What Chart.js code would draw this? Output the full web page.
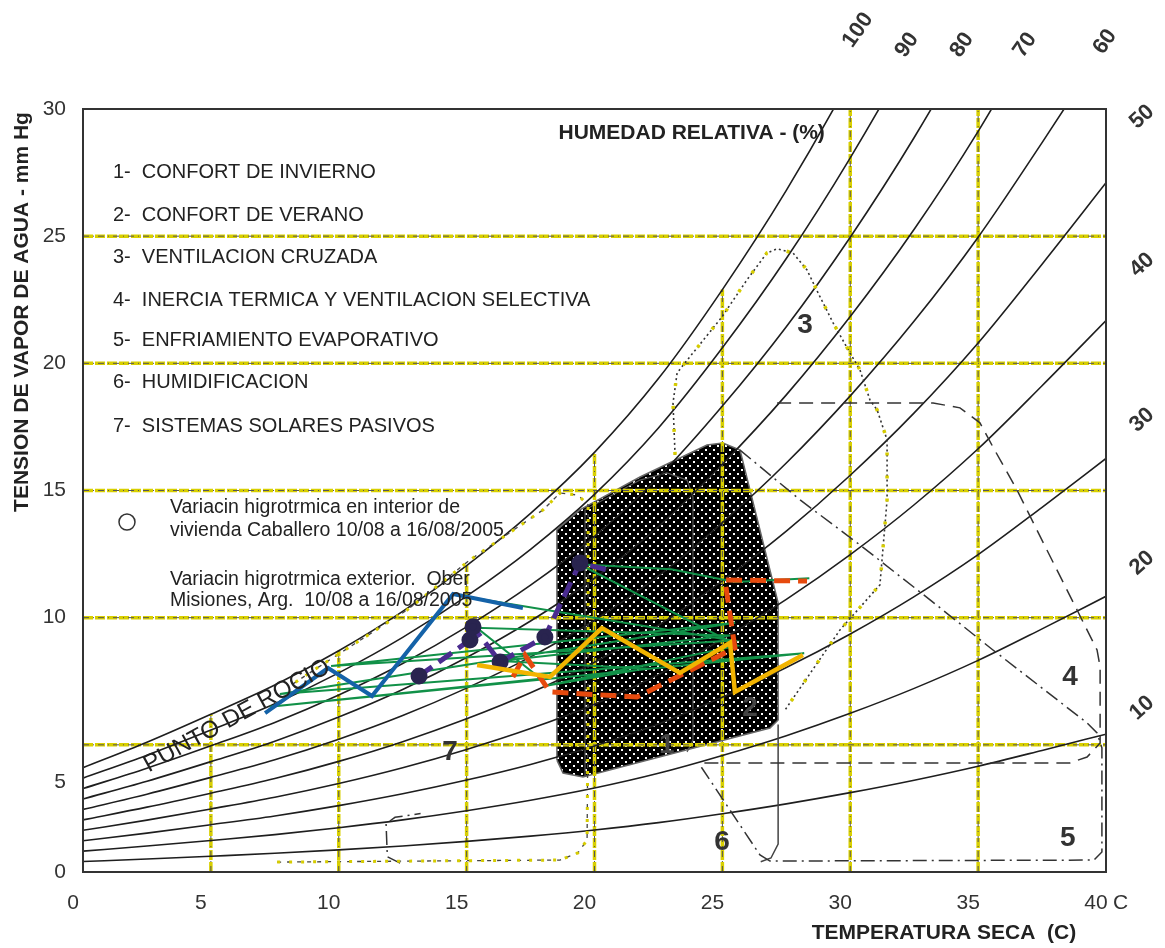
<!DOCTYPE html>
<html>
<head>
<meta charset="utf-8">
<script src="https://cdn.jsdelivr.net/npm/chart.js@4.4.1/dist/chart.umd.min.js"></script>
<style>
  html, body { margin: 0; padding: 0; background: #fff; }
  canvas { display: block; }
</style>
</head>
<body>
<canvas id="chart" width="1165" height="948" style="width:1165px;height:948px"></canvas>
<script>
// saturation vapour pressure (mm Hg)
const satTemps = [0, 2.5, 5, 7.5, 10, 12.5, 15, 17.5, 20, 22.5, 25, 27.5, 30, 32.5, 35, 37.5, 40];
const satPress = [4.1, 5.1, 6.2, 7.35, 8.7, 10.25, 12.05, 14.1, 16.5, 19.4, 22.9, 26.8, 31.2, 36.1, 41.6, 47.8, 54.2];
const rhLevels = [100, 90, 80, 70, 60, 50, 40, 30, 20, 10];

const xTicks = [0, 5, 10, 15, 20, 25, 30, 35, 40];
const yTicks = [0, 5, 10, 15, 20, 25, 30];
const gridX = [5, 10, 15, 20, 25, 30, 35];
const gridY = [5, 10, 15, 20, 25];

// comfort zones 1+2 (black dotted area)
const comfortT = [18.53, 18.53, 19.43, 21.78, 24.4, 25.02, 25.69, 27.18, 27.18, 26.86, 19.55, 18.77, 18.53];
const comfortP = [4.4, 13.45, 14.24, 15.53, 16.79, 16.87, 16.59, 10.58, 5.98, 5.66, 3.74, 3.89, 4.4];
// zone 1 outline inside the black area
const zone1T = [19.63, 19.63, 21.78, 22.83, 23.62, 23.85, 23.85, 23.62];
const zone1P = [3.74, 14.24, 15.41, 15.69, 15.41, 14.75, 5.19, 4.72];
// zone 3 ventilacion cruzada
const zone3T = [23.15, 23.07, 23.23, 23.54, 24.98, 25.96, 26.74, 27.14, 27.76, 28.31, 28.82, 29.33, 29.99, 30.38, 30.77, 31.05, 31.44, 31.44, 31.16, 29.6, 27.45];
const zone3P = [16.4, 18.44, 19.62, 20.02, 21.82, 23.28, 24.34, 24.5, 24.34, 23.67, 22.61, 21.59, 20.41, 19.74, 18.56, 18.17, 16.99, 14.63, 11.29, 9.52, 6.37];
// zone 4 inercia termica
const zone4T = [27.14, 33.24, 34.29, 35.07, 35.58, 36.52, 37.69, 38.87, 39.65, 39.77, 39.77, 39.26, 38.59, 24.01];
const zone4P = [18.44, 18.44, 18.25, 17.66, 16.71, 15.02, 12.66, 10.3, 8.73, 8.06, 5.07, 4.52, 4.29, 4.29];
// zone 5 / 6 enfriamiento evaporativo, humidificacion
const zone5T = [25.69, 28.04, 30.38, 33.12, 35.58, 39.26, 39.65, 39.84, 39.84, 39.53, 26.86, 26.47, 24.12];
const zone5P = [16.59, 14.63, 12.86, 10.7, 8.73, 5.86, 5.47, 4.88, 0.79, 0.47, 0.43, 0.67, 4.21];
const zone6T = [12.4, 11.9, 11.85, 12.2, 13.2];
const zone6P = [0.35, 0.6, 1.9, 2.15, 2.3];
const edgeT = [27.18, 27.18, 26.9, 26.5];
const edgeP = [5.8, 1.1, 0.55, 0.4];
// zone 7 sistemas solares pasivos
const zone7T = [7.59, 18.65, 19.35, 19.71, 19.75, 19.75, 19.35, 18.65, 17.99, 15.13, 12.67, 9.15, 8.02];
const zone7P = [0.39, 0.47, 0.75, 1.26, 6.76, 14.43, 14.82, 14.9, 14.24, 12.27, 10.3, 8.02, 7.27];

// measured series
const blueT = [7.12, 9.58, 11.3, 14.47, 17.2];
const blueP = [6.25, 8.02, 6.92, 10.93, 10.38];
const greenT = [14.5, 25.4, 9.7, 25.5, 7.7, 28.2, 7.3, 17.9, 15.4, 25.3, 16.3, 22.0, 18.0, 25.6, 19.4, 23.0, 25.5, 28.4];
const greenP = [10.9, 9.1, 8.1, 9.8, 7.0, 8.6, 6.5, 7.6, 9.6, 9.3, 8.3, 8.0, 7.3, 8.9, 12.1, 11.9, 11.4, 11.55];
const purpleT = [13.14, 15.13, 15.25, 16.31, 18.06, 19.43, 20.49];
const purpleP = [7.71, 9.12, 9.64, 8.26, 9.24, 12.15, 11.88];
const orangeT = [16.81, 17.28, 18.26, 21.66, 25.49, 25.1, 28.31];
const orangeP = [7.67, 8.53, 7.08, 6.88, 8.81, 11.48, 11.44];
const yellowT = [15.41, 18.26, 20.29, 23.34, 25.3, 25.49, 28.15];
const yellowP = [8.14, 7.67, 9.59, 7.83, 9.01, 7.08, 8.53];

// labels
const zoneList = ['1-  CONFORT DE INVIERNO', '2-  CONFORT DE VERANO', '3-  VENTILACION CRUZADA',
  '4-  INERCIA TERMICA Y VENTILACION SELECTIVA', '5-  ENFRIAMIENTO EVAPORATIVO', '6-  HUMIDIFICACION',
  '7-  SISTEMAS SOLARES PASIVOS'];
const zoneListY = [27.52, 25.83, 24.18, 22.49, 20.88, 19.23, 17.5];
const zoneNum = ['3', '4', '5', '6', '7'];
const zoneNumT = [28.23, 38.59, 38.51, 24.99, 14.35];
const zoneNumP = [21.51, 7.67, 1.34, 1.18, 4.72];
const rhTop = ['100', '90', '80', '70', '60'];
const rhTopT = [30.3, 32.22, 34.37, 36.83, 39.96];
const rhTopP = [33.1, 32.52, 32.52, 32.52, 32.64];
const rhSide = ['50', '40', '30', '20', '10'];
const rhSideP = [29.69, 23.87, 17.77, 12.15, 6.45];

const FONT = "'Liberation Sans', Arial, sans-serif";
const pts = (T, P) => T.map((t, i) => ({ x: t, y: P[i] }));

function dotPattern() {
    const c = document.createElement('canvas');
    c.width = 8; c.height = 8;
    const g = c.getContext('2d');
    g.fillStyle = '#000';
    g.fillRect(0, 0, 8, 8);
    g.fillStyle = '#fff';
    g.fillRect(1, 1, 2, 2);
    g.fillRect(5, 5, 2, 2);
    return document.getElementById('chart').getContext('2d').createPattern(c, 'repeat');
}

function line(data, style, order) {
    return Object.assign({
        data: data, order: order, pointRadius: 0, fill: false, tension: 0,
        borderWidth: 1.5, borderColor: '#333'
    }, style);
}

const datasets = [];

// black comfort area
datasets.push(line(pts(comfortT, comfortP), { fill: 'shape', backgroundColor: dotPattern(), borderColor: '#666', borderWidth: 1.5 }, 90));
datasets.push(line(pts(zone1T, zone1P), { borderColor: '#555', borderWidth: 1.2 }, 89));

// grid lines: yellow under, dark dash-dot over
gridX.forEach(gx => {
    const top = satPress[satTemps.indexOf(gx)];
    const d = [{ x: gx, y: 0 }, { x: gx, y: top }];
    datasets.push(line(d, { borderColor: '#d8cf00', borderWidth: 3.5, borderDash: [10, 2] }, 80));
    datasets.push(line(d, { borderColor: '#555', borderWidth: 1, borderDash: [6, 4, 1, 4] }, 79));
});
gridY.forEach(gy => {
    const d = [{ x: 0, y: gy }, { x: 40, y: gy }];
    datasets.push(line(d, { borderColor: '#d8cf00', borderWidth: 3.5, borderDash: [10, 2] }, 80));
    datasets.push(line(d, { borderColor: '#555', borderWidth: 1, borderDash: [6, 4, 1, 4] }, 79));
});

// relative humidity curves
rhLevels.forEach(rh => {
    const d = satTemps.map((t, i) => ({ x: t, y: satPress[i] * rh / 100 }));
    datasets.push(line(d, { borderColor: '#1e1e1e', borderWidth: 1.6, cubicInterpolationMode: 'monotone' }, 70));
});

// zone boundaries
datasets.push(line(pts(zone3T, zone3P), { borderColor: '#333', borderWidth: 1.6, borderDash: [2, 3] }, 60));
datasets.push(line(pts(zone3T, zone3P), { borderColor: '#d6cc00', borderWidth: 3.5, borderDash: [3, 20] }, 59));
datasets.push(line(pts(zone7T, zone7P), { borderColor: '#444', borderWidth: 1.3, borderDash: [4, 6] }, 60));
datasets.push(line(pts(zone7T, zone7P), { borderColor: '#d6cc00', borderWidth: 3, borderDash: [3, 9] }, 59));
datasets.push(line(pts(zone4T, zone4P), { borderColor: '#333', borderWidth: 1.5, borderDash: [14, 8] }, 60));
datasets.push(line(pts(zone5T, zone5P), { borderColor: '#333', borderWidth: 1.5, borderDash: [14, 5, 2, 5] }, 60));
datasets.push(line(pts(zone6T, zone6P), { borderColor: '#333', borderWidth: 1.5, borderDash: [14, 5, 2, 5] }, 60));
datasets.push(line(pts(edgeT, edgeP), { borderColor: '#444', borderWidth: 1.5 }, 60));

// measured data
datasets.push(line(pts(greenT, greenP), { borderColor: '#119148', borderWidth: 2 }, 30));
datasets.push(line(pts(blueT, blueP), { borderColor: '#1462a8', borderWidth: 4 }, 25));
datasets.push(line(pts(purpleT, purpleP), {
    borderColor: '#4a2c8f', borderWidth: 5, borderDash: [16, 8],
    pointRadius: [6, 6, 6, 6, 6, 6, 0], pointBackgroundColor: '#29244f', pointBorderColor: '#29244f'
}, 20));
datasets.push(line(pts(orangeT, orangeP), { borderColor: '#e64a0e', borderWidth: 5, borderDash: [16, 8] }, 15));
datasets.push(line(pts(yellowT, yellowP), { borderColor: '#f2b400', borderWidth: 4.5 }, 10));

// texts and frame
const annotate = {
    id: 'annotate',
    afterDraw(chart) {
        const { ctx, chartArea: a, scales: { x, y } } = chart;
        const px = v => x.getPixelForValue(v);
        const py = v => y.getPixelForValue(v);
        ctx.save();
        ctx.strokeStyle = '#333';
        ctx.lineWidth = 2;
        ctx.strokeRect(a.left, a.top, a.right - a.left, a.bottom - a.top);

        ctx.fillStyle = '#222';
        ctx.textBaseline = 'middle';
        ctx.textAlign = 'left';
        ctx.font = '20px ' + FONT;
        zoneList.forEach((t, i) => ctx.fillText(t, px(1.17), py(zoneListY[i])));

        ctx.font = '19.5px ' + FONT;
        ctx.fillText('Variacin higrotrmica en interior de', px(3.4), py(14.31));
        ctx.fillText('vivienda Caballero 10/08 a 16/08/2005', px(3.4), py(13.41));
        ctx.fillText('Variacin higrotrmica exterior.  Ober', px(3.4), py(11.48));
        ctx.fillText('Misiones, Arg.  10/08 a 16/08/2005', px(3.4), py(10.66));
        ctx.beginPath();
        ctx.arc(px(1.72), py(13.76), 8, 0, Math.PI * 2);
        ctx.lineWidth = 1.5;
        ctx.stroke();

        ctx.textAlign = 'center';
        ctx.font = 'bold 21px ' + FONT;
        ctx.fillText('HUMEDAD RELATIVA - (%)', px(23.8), py(29.06));

        ctx.font = 'bold 28px ' + FONT;
        ctx.fillStyle = '#333';
        zoneNum.forEach((t, i) => ctx.fillText(t, px(zoneNumT[i]), py(zoneNumP[i])));
        ctx.fillStyle = '#444';
        ctx.fillText('1', px(22.83), py(4.99));
        ctx.fillText('2', px(26.08), py(6.45));

        // dew point label along the 100% curve
        ctx.save();
        ctx.fillStyle = '#222';
        ctx.font = '24px ' + FONT;
        ctx.translate(px(6.02), py(6.13));
        ctx.rotate(-29 * Math.PI / 180);
        ctx.fillText('PUNTO DE ROCIO', 0, 0);
        ctx.restore();

        // relative humidity labels outside the frame
        ctx.font = 'bold 22px ' + FONT;
        ctx.fillStyle = '#333';
        rhTop.forEach((t, i) => {
            ctx.save();
            ctx.translate(px(rhTopT[i]), py(rhTopP[i]));
            ctx.rotate(-55 * Math.PI / 180);
            ctx.fillText(t, 0, 0);
            ctx.restore();
        });
        rhSide.forEach((t, i) => {
            ctx.save();
            ctx.translate(px(41.41), py(rhSideP[i]));
            ctx.rotate(-42 * Math.PI / 180);
            ctx.fillText(t, 0, 0);
            ctx.restore();
        });

        // axis titles
        ctx.fillStyle = '#222';
        ctx.font = 'bold 21px ' + FONT;
        ctx.fillText('TEMPERATURA SECA  (C)', 944, 933);
        ctx.save();
        ctx.translate(22, 312);
        ctx.rotate(-Math.PI / 2);
        ctx.fillText('TENSION DE VAPOR DE AGUA - mm Hg', 0, 0);
        ctx.restore();

        ctx.font = '21px ' + FONT;
        ctx.fillStyle = '#333';
        ctx.textAlign = 'left';
        ctx.fillText('C', px(40) + 7, 903);
        ctx.restore();
    }
};

new Chart('chart', {
    type: 'line',
    data: { datasets: datasets },
    options: {
        responsive: false,
        animation: false,
        devicePixelRatio: 1,
        events: [],
        layout: { padding: { left: 0, top: 109, right: 59, bottom: 0 } },
        plugins: { legend: { display: false }, tooltip: { enabled: false } },
        scales: {
            x: {
                type: 'linear', min: 0, max: 40,
                afterBuildTicks: s => { s.ticks = xTicks.map(v => ({ value: v })); },
                afterFit: s => { s.height = 76; },
                grid: { display: false, drawTicks: false },
                border: { display: false },
                ticks: { padding: 19, labelOffset: -10, color: '#333', font: { family: FONT, size: 21 }, maxRotation: 0, autoSkip: false }
            },
            y: {
                type: 'linear', min: 0, max: 30,
                afterBuildTicks: s => { s.ticks = yTicks.map(v => ({ value: v })); },
                afterFit: s => { s.width = 83; },
                grid: { display: false, drawTicks: false },
                border: { display: false },
                ticks: {
                    padding: 17, color: '#333', font: { family: FONT, size: 21 }, autoSkip: false,
                    callback: v => v === 5 ? ['', '', '', '5'] : String(v)
                }
            }
        }
    },
    plugins: [annotate]
});
</script>
</body>
</html>
